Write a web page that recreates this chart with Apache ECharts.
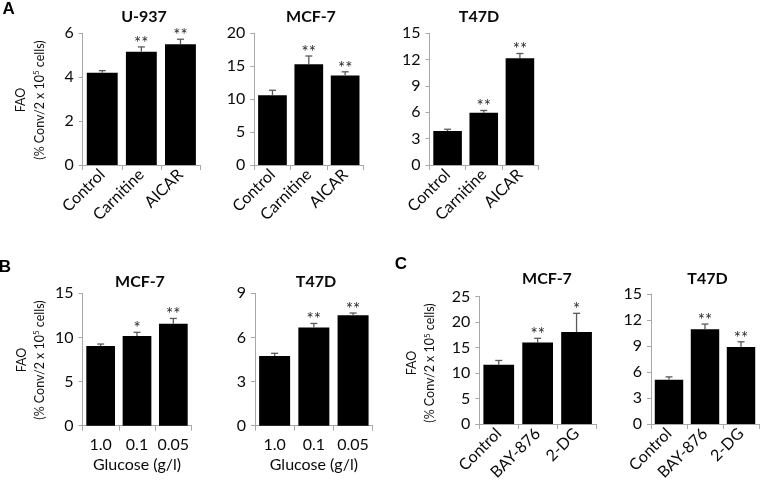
<!DOCTYPE html>
<html>
<head>
<meta charset="utf-8">
<script src="https://cdn.jsdelivr.net/npm/echarts@6/dist/echarts.min.js"></script>
<style>
html,body{margin:0;padding:0;background:#fff;}
#chart{width:760px;height:483px;}
</style>
</head>
<body>
<div id="chart"></div>
<script>
// ---- data ----
const catsTreatA = ['Control', 'Carnitine', 'AICAR'];
const catsGlucose = ['1.0', '0.1', '0.05'];
const catsTreatC = ['Control', 'BAY-876', '2-DG'];

const u937Mean = [4.2, 5.16, 5.5];
const u937Err = [0.1, 0.22, 0.23];
const u937Sig = ['', '**', '**'];

const mcf7AMean = [10.6, 15.3, 13.6];
const mcf7AErr = [0.75, 1.25, 0.55];
const mcf7ASig = ['', '**', '**'];

const t47dAMean = [3.87, 5.96, 12.15];
const t47dAErr = [0.2, 0.25, 0.55];
const t47dASig = ['', '**', '**'];

const mcf7BMean = [9.03, 10.16, 11.55];
const mcf7BErr = [0.22, 0.42, 0.6];
const mcf7BSig = ['', '*', '**'];

const t47dBMean = [4.74, 6.68, 7.51];
const t47dBErr = [0.18, 0.27, 0.15];
const t47dBSig = ['', '**', '**'];

const mcf7CMean = [11.6, 16.0, 18.05];
const mcf7CErr = [0.85, 0.8, 3.65];
const mcf7CSig = ['', '**', '*'];

const t47dCMean = [5.09, 10.93, 8.88];
const t47dCErr = [0.34, 0.6, 0.6];
const t47dCSig = ['', '**', '**'];

const panelTitles = ['U-937', 'MCF-7', 'T47D', 'MCF-7', 'T47D', 'MCF-7', 'T47D'];
const yMax = [6, 20, 15, 15, 9, 25, 15];
const yInterval = [2, 5, 3, 5, 3, 5, 3];
const xAxisName = 'Glucose (g/l)';
const yNameTop = 'FAO';
const yNameBottom = '(% Conv/2 x 10{sup|5} cells)';

// ---- layout ----
const FONT = 'Lato, "Open Sans", sans-serif';
const grids = [
  {left: 82.7, top: 33.3, width: 117.3, height: 131.7},
  {left: 254.3, top: 33.3, width: 109, height: 131.7},
  {left: 429.5, top: 33.3, width: 108.5, height: 131.7},
  {left: 82.5, top: 293.3, width: 109, height: 132.4},
  {left: 255, top: 293.3, width: 117.7, height: 132.4},
  {left: 479.3, top: 296.5, width: 116.7, height: 129.2},
  {left: 651, top: 294, width: 108, height: 131.7}
];
const titleX = [144, 311, 479, 140, 316, 547, 707.5];
const titleY = [17, 17, 17, 282, 282, 279, 279];

const panels = [
  {cats: catsTreatA, mean: u937Mean, err: u937Err, sig: u937Sig, rot: 45},
  {cats: catsTreatA, mean: mcf7AMean, err: mcf7AErr, sig: mcf7ASig, rot: 45},
  {cats: catsTreatA, mean: t47dAMean, err: t47dAErr, sig: t47dASig, rot: 45},
  {cats: catsGlucose, mean: mcf7BMean, err: mcf7BErr, sig: mcf7BSig, rot: 0},
  {cats: catsGlucose, mean: t47dBMean, err: t47dBErr, sig: t47dBSig, rot: 0},
  {cats: catsTreatC, mean: mcf7CMean, err: mcf7CErr, sig: mcf7CSig, rot: 45},
  {cats: catsTreatC, mean: t47dCMean, err: t47dCErr, sig: t47dCSig, rot: 45}
];

const AXIS_COLOR = '#a8a8a8';
const TEXT_COLOR = '#0a0a0a';

const xAxes = [], yAxes = [], series = [];
panels.forEach((p, i) => {
  const isB = p.rot === 0;
  xAxes.push({
    gridIndex: i, type: 'category', data: p.cats,
    axisLine: {lineStyle: {color: AXIS_COLOR, width: 1}},
    axisTick: {show: true, length: 5, lineStyle: {color: AXIS_COLOR}},
    axisLabel: {rotate: p.rot, fontSize: 16, fontFamily: FONT, color: TEXT_COLOR, margin: isB ? 11 : 7, interval: 0},
    name: isB ? xAxisName : '',
    nameLocation: 'middle', nameGap: 31,
    nameTextStyle: {fontSize: 16, fontFamily: FONT, color: TEXT_COLOR}
  });
  yAxes.push({
    gridIndex: i, type: 'value', min: 0, max: yMax[i], interval: yInterval[i],
    axisLine: {show: true, lineStyle: {color: AXIS_COLOR, width: 1}},
    axisTick: {show: true, length: 4, lineStyle: {color: AXIS_COLOR}},
    splitLine: {show: false},
    axisLabel: {fontSize: 16, fontFamily: FONT, color: TEXT_COLOR, margin: 9}
  });
  series.push({
    type: 'bar', xAxisIndex: i, yAxisIndex: i,
    data: p.mean, barCategoryGap: '21%',
    itemStyle: {color: '#000000'},
    silent: true, animation: false
  });
  const sig = p.sig;
  series.push({
    type: 'custom', xAxisIndex: i, yAxisIndex: i,
    data: p.mean.map((m, k) => [k, m, p.err[k]]),
    animation: false, silent: true, z: 5,
    renderItem: function (params, api) {
      const x = api.value(0), m = api.value(1), e = api.value(2);
      const base = api.coord([x, m]);
      const top = api.coord([x, m + e]);
      const cap = 3.5;
      const children = [
        {type: 'line', shape: {x1: base[0], y1: base[1], x2: top[0], y2: top[1]},
         style: {stroke: '#5a5a5a', lineWidth: 1.3}},
        {type: 'line', shape: {x1: top[0] - cap, y1: top[1], x2: top[0] + cap, y2: top[1]},
         style: {stroke: '#5a5a5a', lineWidth: 1.3}}
      ];
      const s = sig[params.dataIndex];
      if (s) {
        children.push({type: 'text', x: top[0], y: top[1] + 5,
          style: {text: s, fontSize: 17, fontFamily: FONT, fill: '#2a2a2a', align: 'center', verticalAlign: 'bottom'}});
      }
      return {type: 'group', children: children};
    }
  });
});

const graphics = [];
panels.forEach((p, i) => {
  graphics.push({type: 'text', x: titleX[i], y: titleY[i],
    style: {text: panelTitles[i], fontSize: 16, fontWeight: 'bold', fontFamily: FONT, fill: '#0a0a0a', align: 'center', verticalAlign: 'middle'}});
});
[['A', 8.7, 9.5], ['B', 5, 267.5], ['C', 401, 264]].forEach(l => {
  graphics.push({type: 'text', x: l[1], y: l[2],
    style: {text: l[0], fontSize: 17, fontWeight: 'bold', fontFamily: '"Liberation Sans", Arial, sans-serif', fill: '#000', align: 'center', verticalAlign: 'middle'}});
});
[[21, 39.5, 100], [21.7, 39.5, 360], [411.7, 430, 363]].forEach(n => {
  graphics.push({type: 'text', x: n[0], y: n[2], rotation: Math.PI / 2,
    style: {text: yNameTop, fontSize: 12.5, fontFamily: FONT, fill: '#111', align: 'center', verticalAlign: 'middle'}});
  graphics.push({type: 'text', x: n[1], y: n[2], rotation: Math.PI / 2,
    style: {text: yNameBottom, fontSize: 12.5, fontFamily: FONT, fill: '#111', align: 'center', verticalAlign: 'middle',
      rich: {sup: {fontSize: 8, fontFamily: FONT, fill: '#111', verticalAlign: 'top', lineHeight: 14}}}});
});

const chart = echarts.init(document.getElementById('chart'), null, {renderer: 'canvas'});
chart.setOption({
  animation: false,
  backgroundColor: '#ffffff',
  grid: grids.map(g => Object.assign({containLabel: false}, g)),
  xAxis: xAxes,
  yAxis: yAxes,
  series: series,
  graphic: graphics
});
</script>
</body>
</html>
